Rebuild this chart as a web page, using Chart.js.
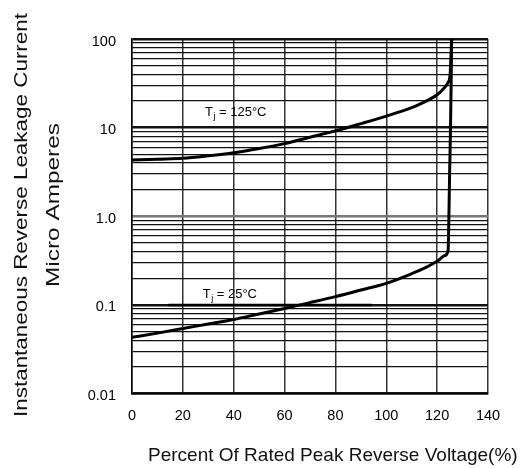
<!DOCTYPE html>
<html><head><meta charset="utf-8">
<script src="https://cdn.jsdelivr.net/npm/chart.js@4.4.1/dist/chart.umd.min.js"></script>
<style>html,body{margin:0;padding:0;background:#fff;}#wrap{width:530px;height:468px;}</style>
</head><body><div id="wrap"><canvas id="c" width="530" height="468"></canvas></div>
<script>
// ---- data ----
const xTickValues = [0, 20, 40, 60, 80, 100, 120, 140];
const yDecades = [0.01, 0.1, 1, 10, 100];
const yDecadeLabels = ['0.01', '0.1', '1.0', '10', '100'];
const minorMultipliers = [2, 3, 4, 5, 6, 7, 8, 9];

const pct125 = [0, 10, 20, 30, 40, 50, 60, 70, 80, 90, 100, 110, 113, 117, 120, 122.5, 124.2, 125.1, 125.4, 125.7];
const cur125 = [4.3, 4.4, 4.5, 4.8, 5.2, 5.8, 6.6, 7.8, 9.2, 11.1, 13.5, 16.8, 18.3, 20.8, 23.5, 27.5, 32, 40, 60, 100];

const pct25 = [0, 10, 20, 30, 40, 50, 60, 70, 80, 90, 100, 110, 115, 120, 123, 124.3, 124.6, 124.9, 125.2, 125.5, 125.7];
const cur25 = [0.043, 0.048, 0.054, 0.061, 0.0685, 0.079, 0.091, 0.106, 0.124, 0.147, 0.175, 0.225, 0.26, 0.31, 0.36, 0.41, 0.9, 3, 8, 30, 100];

const markPct = [14.3, 94.3];
const markCur = [0.1, 0.1];

const labelPct = [28.7, 27.8];
const labelCur = [13.6, 0.12];
const labelTemps = ['125°C', '25°C'];

const xTitle = 'Percent Of Rated Peak Reverse Voltage(%)';
const yTitle1 = 'Instantaneous Reverse Leakage Current';
const yTitle2 = 'Micro Amperes';

// ---- build ----
const FONT = '"Liberation Sans", Arial, Helvetica, sans-serif';
const yTickValues = [];
yDecades.forEach((d, i) => {
  yTickValues.push(d);
  if (i < yDecades.length - 1) minorMultipliers.forEach(m => yTickValues.push(+(d * m).toPrecision(6)));
});
const isDecade = v => Math.abs(Math.log10(v) - Math.round(Math.log10(v))) < 1e-6;
const toPts = (xs, ys) => xs.map((x, i) => ({x, y: ys[i]}));

const textPlugin = {
  id: 'texts',
  afterDatasetsDraw(chart) {
    const ctx = chart.ctx;
    const xs = chart.scales.x, ys = chart.scales.y;
    ctx.save();
    ctx.fillStyle = '#000';
    ctx.textBaseline = 'alphabetic';
    labelTemps.forEach((t, i) => {
      const x = xs.getPixelForValue(labelPct[i]);
      const y = ys.getPixelForValue(labelCur[i]);
      ctx.textAlign = 'left';
      ctx.font = '13px ' + FONT;
      ctx.fillText('T', x, y);
      let w = ctx.measureText('T').width;
      ctx.font = '9px ' + FONT;
      ctx.fillText('j', x + w + 0.5, y + 3);
      w += ctx.measureText('j').width + 0.5;
      ctx.font = '13px ' + FONT;
      ctx.fillText(' = ' + t, x + w, y);
    });
    ctx.restore();
  },
  afterDraw(chart) {
    const ctx = chart.ctx;
    ctx.save();
    ctx.fillStyle = '#111';
    ctx.textBaseline = 'alphabetic';
    ctx.font = '19px ' + FONT;
    ctx.textAlign = 'left';
    ctx.fillText(xTitle, 148, 461);
    const drawV = (text, bx, cy, target) => {
      ctx.save();
      ctx.translate(bx, cy);
      ctx.rotate(-Math.PI / 2);
      ctx.font = '18.5px ' + FONT;
      const nat = ctx.measureText(text).width;
      ctx.scale(target / nat, 1);
      ctx.textAlign = 'center';
      ctx.fillText(text, 0, 0);
      ctx.restore();
    };
    drawV(yTitle1, 26.7, 215, 404);
    drawV(yTitle2, 58.5, 205, 164);
    ctx.restore();
  }
};

new Chart(document.getElementById('c'), {
  type: 'scatter',
  data: {
    datasets: [
      {data: toPts(pct125, cur125), showLine: true, borderColor: '#000', borderWidth: 3, pointRadius: 0, cubicInterpolationMode: 'monotone'},
      {data: toPts(pct25, cur25), showLine: true, borderColor: '#000', borderWidth: 3, pointRadius: 0, cubicInterpolationMode: 'monotone'},
      {data: toPts(markPct, markCur), showLine: true, borderColor: '#000', borderWidth: 2.5, pointRadius: 0}
    ]
  },
  options: {
    responsive: false,
    animation: false,
    layout: {padding: {left: 0, right: 42, top: 39, bottom: 0}},
    plugins: {legend: {display: false}, tooltip: {enabled: false}},
    scales: {
      x: {
        type: 'linear', min: 0, max: 140,
        afterBuildTicks: s => { s.ticks = xTickValues.map(v => ({value: v})); },
        afterFit: s => { s.height = 468 - 393.5; },
        ticks: {font: {family: FONT, size: 14.5}, color: '#000', padding: 14, maxRotation: 0, autoSkip: false},
        grid: {color: '#333', lineWidth: 1.5, drawTicks: false},
        border: {display: true, color: '#000', width: 1.5}
      },
      y: {
        type: 'logarithmic', min: 0.01, max: 100,
        afterBuildTicks: s => { s.ticks = yTickValues.map(v => ({value: v})); },
        afterFit: s => { s.width = 132; },
        ticks: {
          font: {family: FONT, size: 14.5}, color: '#000', padding: 16, autoSkip: false, labelOffset: 2.5,
          callback: v => { const i = yDecades.findIndex(d => Math.abs(d - v) < d * 1e-6); return i >= 0 ? yDecadeLabels[i] : ''; }
        },
        grid: {
          drawTicks: false,
          color: c => (c.tick && Math.abs(c.tick.value - 1) < 1e-9) ? '#777' : '#111',
          lineWidth: c => (c.tick && isDecade(c.tick.value)) ? 2.5 : 1.2
        },
        border: {display: true, color: '#000', width: 1.5}
      }
    }
  },
  plugins: [textPlugin]
});
</script>
</body></html>
